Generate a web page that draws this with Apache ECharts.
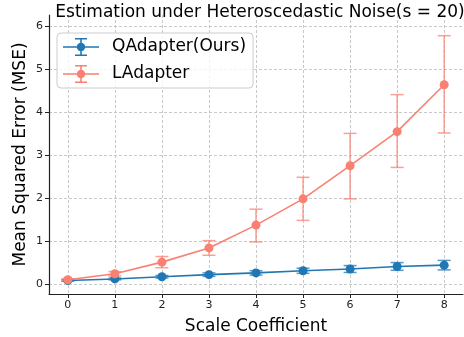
<!DOCTYPE html>
<html>
<head>
<meta charset="utf-8">
<script src="https://cdn.jsdelivr.net/npm/echarts@6/dist/echarts.min.js"></script>
<style>
  html, body { margin: 0; padding: 0; background: #fff; }
  #chart { width: 464px; height: 337px; }
</style>
</head>
<body>
<div id="chart"></div>
<script>
const scales = [0, 1, 2, 3, 4, 5, 6, 7, 8];
const yTicks = [0, 1, 2, 3, 4, 5, 6];

const qMean = [0.085, 0.12, 0.17, 0.22, 0.26, 0.31, 0.35, 0.41, 0.44];
const qLow  = [0.065, 0.10, 0.14, 0.18, 0.21, 0.25, 0.27, 0.32, 0.33];
const qHigh = [0.105, 0.14, 0.20, 0.26, 0.31, 0.37, 0.43, 0.50, 0.55];

const lMean = [0.10, 0.24, 0.51, 0.84, 1.37, 1.98, 2.75, 3.54, 4.63];
const lLow  = [0.08, 0.19, 0.38, 0.67, 0.98, 1.48, 1.98, 2.71, 3.51];
const lHigh = [0.12, 0.29, 0.64, 1.01, 1.74, 2.48, 3.50, 4.40, 5.77];

const blue = "#1f77b4";
const salmon = "#fa8072";
const font = "DejaVu Sans";

// error-bar legend glyph: line + marker + capped vertical bar (2:1 box)
const errIcon = "path://M0 82H360V98H0Z M172 0H188V180H172Z M120 0H240V14H120Z M120 166H240V180H120Z " +
  "M222 90A42 42 0 1 1 138 90A42 42 0 1 1 222 90Z";

function errorBars(name, color, low, high) {
  return {
    name: name,
    type: "custom",
    z: 2,
    data: scales.map((x, i) => [x, low[i], high[i]]),
    renderItem: (params, api) => {
      const top = api.coord([api.value(0), api.value(2)]);
      const bot = api.coord([api.value(0), api.value(1)]);
      const cap = 6.5;
      const style = { stroke: color, lineWidth: 1.5, opacity: 0.75 };
      return {
        type: "group",
        children: [
          { type: "line", shape: { x1: top[0], y1: top[1], x2: bot[0], y2: bot[1] }, style },
          { type: "line", shape: { x1: top[0] - cap, y1: top[1], x2: top[0] + cap, y2: top[1] }, style },
          { type: "line", shape: { x1: bot[0] - cap, y1: bot[1], x2: bot[0] + cap, y2: bot[1] }, style },
        ],
      };
    },
  };
}

function meanLine(name, color, values) {
  return {
    name: name,
    type: "line",
    z: 3,
    symbol: "circle",
    symbolSize: 9,
    showSymbol: true,
    color: color,
    lineStyle: { width: 1.6, color: color },
    itemStyle: { color: color },
    data: scales.map((x, i) => [x, values[i]]),
  };
}

const chart = echarts.init(document.getElementById("chart"), null, { renderer: "canvas" });
chart.setOption({
  animation: false,
  backgroundColor: "#fff",
  textStyle: { fontFamily: font },
  title: {
    text: "Estimation under Heteroscedastic Noise(s = 20)",
    left: 255,
    textAlign: "center",
    top: -1,
    textStyle: { fontFamily: font, fontSize: 17, fontWeight: "normal", color: "#000" },
  },
  legend: {
    orient: "vertical",
    left: 57,
    top: 33,
    padding: [5, 7, 5, 6],
    itemWidth: 36,
    itemHeight: 18,
    itemGap: 9,
    borderColor: "#cccccc",
    borderWidth: 1,
    borderRadius: 4,
    backgroundColor: "rgba(255,255,255,0.8)",
    textStyle: { fontFamily: font, fontSize: 17, color: "#000", padding: [0, 0, 0, 8] },
    data: [
      { name: "QAdapter(Ours)", icon: errIcon, itemStyle: { color: blue } },
      { name: "LAdapter", icon: errIcon, itemStyle: { color: salmon } },
    ],
  },
  grid: { left: 49, right: 1, top: 15, bottom: 43, containLabel: false, outerBoundsMode: "none" },
  xAxis: {
    type: "value",
    min: -0.4,
    max: 8.4,
    name: "Scale Coefficient",
    nameLocation: "middle",
    nameGap: 24,
    nameMoveOverlap: false,
    nameTextStyle: { fontFamily: font, fontSize: 17, color: "#000" },
    axisLine: { show: true, onZero: false, lineStyle: { color: "#222", width: 1.2 } },
    axisTick: { show: true, inside: false, length: 4, customValues: scales, lineStyle: { color: "#222" } },
    axisLabel: { customValues: scales, fontFamily: font, fontSize: 11, color: "#222", margin: 6 },
    splitLine: { show: true, lineStyle: { color: "#bbbbbb", type: [3, 2], width: 0.8 } },
  },
  yAxis: {
    type: "value",
    min: -0.23,
    max: 6.25,
    name: "Mean Squared Error (MSE)",
    nameLocation: "middle",
    nameGap: 20,
    nameMoveOverlap: false,
    nameRotate: 90,
    nameTextStyle: { fontFamily: font, fontSize: 17, color: "#000" },
    axisLine: { show: true, onZero: false, lineStyle: { color: "#222", width: 1.2 } },
    axisTick: { show: true, inside: false, length: 4, customValues: yTicks, lineStyle: { color: "#222" } },
    axisLabel: { customValues: yTicks, fontFamily: font, fontSize: 11, color: "#222", margin: 6 },
    splitLine: { show: true, lineStyle: { color: "#bbbbbb", type: [3, 2], width: 0.8 } },
  },
  series: [
    errorBars("QAdapter(Ours)", blue, qLow, qHigh),
    meanLine("QAdapter(Ours)", blue, qMean),
    errorBars("LAdapter", salmon, lLow, lHigh),
    meanLine("LAdapter", salmon, lMean),
  ],
});
</script>
</body>
</html>
